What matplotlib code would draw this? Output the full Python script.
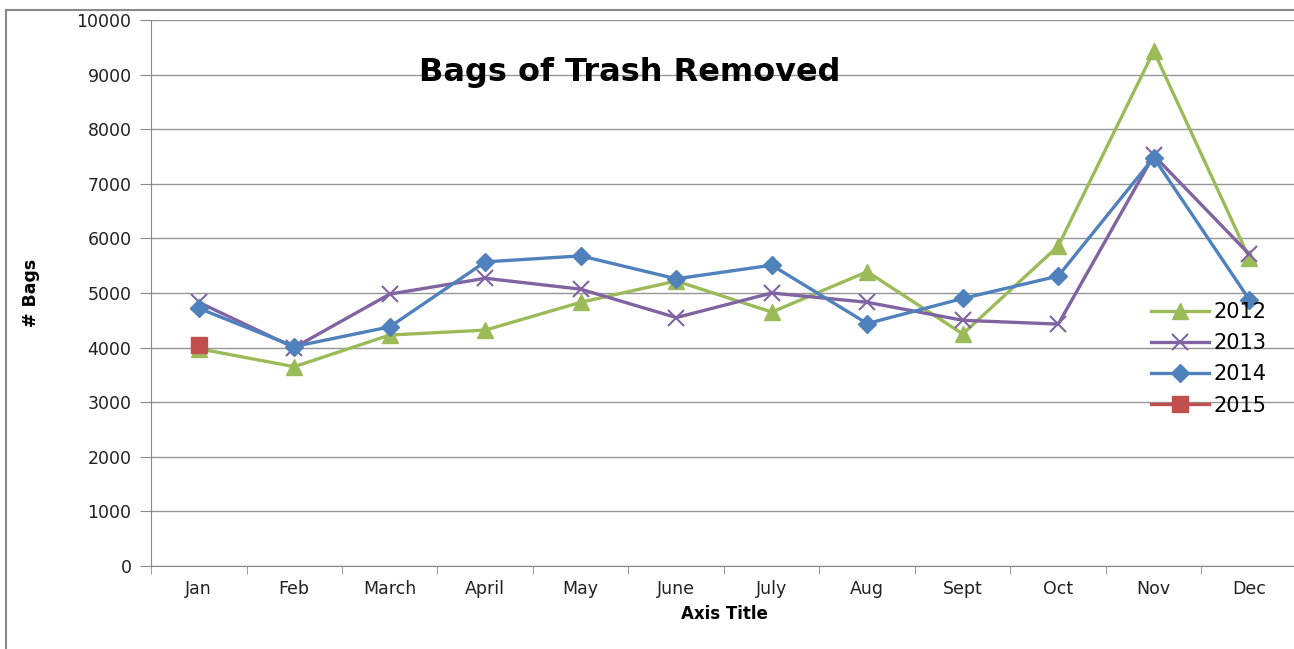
import matplotlib
matplotlib.use("Agg")
from matplotlib import pyplot as plt
from matplotlib.lines import Line2D
import numpy as np

months = ["Jan", "Feb", "March", "April", "May", "June",
          "July", "Aug", "Sept", "Oct", "Nov", "Dec"]

bags_2012 = [3980, 3650, 4230, 4320, 4830, 5220, 4650, 5390, 4250, 5860, 9430, 5640]
bags_2013 = [4830, 4000, 4980, 5270, 5070, 4550, 5000, 4830, 4500, 4430, 7520, 5710]
bags_2014 = [4720, 4020, 4380, 5570, 5680, 5260, 5510, 4440, 4900, 5310, 7480, 4880]
bags_2015 = [4050]

yticks = list(range(0, 10001, 1000))

fig = plt.figure(figsize=(12.94, 6.49), dpi=100)
ax = fig.add_axes([151 / 1294, 83 / 649, 1146 / 1294, 546 / 649])

x = np.arange(len(months))
ax.plot(x, bags_2012, color="#9BBB59", lw=2.4, marker="^", ms=11, label="2012")
ax.plot(x, bags_2013, color="#8064A2", lw=2.4, marker="x", ms=11, mew=1.5, label="2013")
ax.plot(x, bags_2014, color="#4F81BD", lw=2.4, marker="D", ms=9, label="2014")
ax.plot(x[:len(bags_2015)], bags_2015, color="#C0504D", lw=2.4, marker="s", ms=12, label="2015")

ax.set_xlim(-0.5, 11.5)
ax.set_ylim(0, 10000)
ax.set_yticks(yticks)
ax.set_yticklabels([str(v) for v in yticks], fontsize=12.5, color="#222222")
ax.set_xticks(x)
ax.set_xticklabels(months, fontsize=12.5, color="#222222")
ax.set_xticks(np.arange(-0.5, 12, 1), minor=True)
ax.tick_params(axis="x", which="major", length=0, pad=10)
ax.tick_params(axis="x", which="minor", length=6, color="#888888", direction="out")
ax.tick_params(axis="y", length=8, color="#888888", direction="out", pad=6)

ax.grid(axis="y", color="#959595", lw=1)
ax.set_axisbelow(True)
for side in ["top", "right"]:
    ax.spines[side].set_visible(False)
for side in ["left", "bottom"]:
    ax.spines[side].set_color("#888888")

ax.set_ylabel("# Bags", fontsize=12.5, fontweight="bold", labelpad=26)
ax.set_xlabel("Axis Title", fontsize=12, fontweight="bold", labelpad=5)
ax.text(0.418, 0.903, "Bags of Trash Removed", transform=ax.transAxes,
        ha="center", va="center", fontsize=23, fontweight="bold")

ax.legend(loc="upper left", bbox_to_anchor=(0.865, 0.499), frameon=False,
          fontsize=15, handlelength=2.8, labelspacing=0.54, handletextpad=0.2,
          borderaxespad=0)

# outer chart frame
fig.add_artist(Line2D([6 / 1294, 6 / 1294], [0, 1 - 10 / 649], color="#888888", lw=1.5))
fig.add_artist(Line2D([6 / 1294, 1], [1 - 10 / 649, 1 - 10 / 649], color="#888888", lw=1.5))

fig.savefig("out.png", dpi=100)
